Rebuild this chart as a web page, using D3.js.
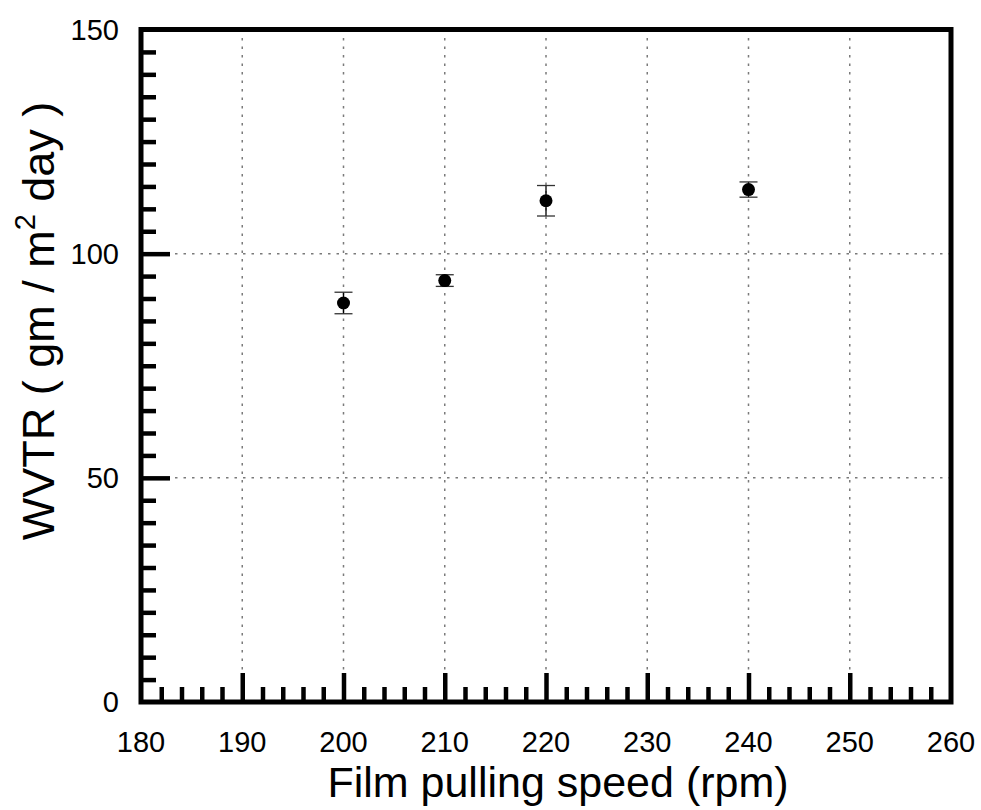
<!DOCTYPE html>
<html>
<head>
<meta charset="utf-8">
<script src="https://cdn.jsdelivr.net/npm/d3@7"></script>
<style>
  body { margin: 0; background: #fff; }
  text { font-family: "Liberation Sans", Arial, sans-serif; fill: #000; }
</style>
</head>
<body>
<svg id="svg" width="981" height="810"></svg>
<script>
// data
var speeds = [200, 210, 220, 240];
var wvtr = [89.0, 94.0, 111.8, 114.3];
var wvtrErr = [2.4, 1.3, 3.4, 1.7];

var xTicks = [180, 190, 200, 210, 220, 230, 240, 250, 260];
var yTicks = [0, 50, 100, 150];

var pLeft = 141, pRight = 951, pTop = 29.5, pBottom = 702;

var svg = d3.select("#svg");

var x = d3.scaleLinear().domain([180, 260]).range([pLeft, pRight]);
var y = d3.scaleLinear().domain([0, 150]).range([pBottom, pTop]);

// grid lines, dotted
var grid = svg.append("g");
grid.selectAll(".gx").data(xTicks.slice(1, -1)).enter()
  .append("line")
  .attr("x1", function(d){ return x(d); })
  .attr("x2", function(d){ return x(d); })
  .attr("y1", pTop)
  .attr("y2", pBottom)
  .attr("stroke", "#7a7a7a")
  .attr("stroke-width", 1.5)
  .attr("stroke-dasharray", "2.5,6");
grid.selectAll(".gy").data(yTicks.slice(1, -1)).enter()
  .append("line")
  .attr("x1", pLeft)
  .attr("x2", pRight)
  .attr("y1", function(d){ return y(d); })
  .attr("y2", function(d){ return y(d); })
  .attr("stroke", "#7a7a7a")
  .attr("stroke-width", 1.5)
  .attr("stroke-dasharray", "2.5,6");

// inward ticks on bottom and left
var xMinor = d3.range(182, 260, 2).filter(function(v){ return v % 10 != 0; });
var yMinor = d3.range(5, 150, 5).filter(function(v){ return v % 50 != 0; });

function tickAxis(axis, g){
  g.call(axis);
  g.select(".domain").remove();
  g.selectAll(".tick line").attr("stroke", "#000").attr("stroke-width", 4.5);
}

tickAxis(d3.axisBottom(x).tickValues(xMinor).tickSize(-15).tickFormat(""),
  svg.append("g").attr("transform", "translate(0," + pBottom + ")"));
tickAxis(d3.axisBottom(x).tickValues(xTicks.slice(1, -1)).tickSize(-29).tickFormat(""),
  svg.append("g").attr("transform", "translate(0," + pBottom + ")"));
tickAxis(d3.axisLeft(y).tickValues(yMinor).tickSize(-15).tickFormat(""),
  svg.append("g").attr("transform", "translate(" + pLeft + ",0)"));
tickAxis(d3.axisLeft(y).tickValues(yTicks.slice(1, -1)).tickSize(-29).tickFormat(""),
  svg.append("g").attr("transform", "translate(" + pLeft + ",0)"));

// frame
svg.append("rect")
  .attr("x", pLeft).attr("y", pTop)
  .attr("width", pRight - pLeft).attr("height", pBottom - pTop)
  .attr("fill", "none").attr("stroke", "#000").attr("stroke-width", 5);

// tick labels
svg.selectAll(".xl").data(xTicks).enter()
  .append("text")
  .attr("x", function(d){ return x(d); })
  .attr("y", 752)
  .attr("text-anchor", "middle")
  .style("font-size", "29px")
  .text(function(d){ return d; });

svg.selectAll(".yl").data(yTicks).enter()
  .append("text")
  .attr("x", 119)
  .attr("y", function(d){ return y(d) + 10; })
  .attr("text-anchor", "end")
  .style("font-size", "29px")
  .text(function(d){ return d; });

// axis titles
svg.append("text")
  .attr("x", 558)
  .attr("y", 797)
  .attr("text-anchor", "middle")
  .style("font-size", "43px")
  .text("Film pulling speed (rpm)");

var yt = svg.append("text")
  .attr("transform", "translate(54,321) rotate(-90)")
  .attr("text-anchor", "middle")
  .style("font-size", "45px");
yt.append("tspan").text("WVTR ( gm / m");
yt.append("tspan").attr("dy", -19).style("font-size", "29px").text("2");
yt.append("tspan").attr("dy", 19).text(" day )");

// error bars and points
var pts = svg.selectAll(".pt").data(speeds).enter().append("g");
pts.append("line")
  .attr("x1", function(d){ return x(d); })
  .attr("x2", function(d){ return x(d); })
  .attr("y1", function(d, i){ return y(wvtr[i] + wvtrErr[i]); })
  .attr("y2", function(d, i){ return y(wvtr[i] - wvtrErr[i]); })
  .attr("stroke", "#000").attr("stroke-width", 1.3);
[1, -1].forEach(function(s){
  pts.append("line")
    .attr("x1", function(d){ return x(d) - 9; })
    .attr("x2", function(d){ return x(d) + 9; })
    .attr("y1", function(d, i){ return y(wvtr[i] + s * wvtrErr[i]); })
    .attr("y2", function(d, i){ return y(wvtr[i] + s * wvtrErr[i]); })
    .attr("stroke", "#333").attr("stroke-width", 1.3);
});
pts.append("circle")
  .attr("cx", function(d){ return x(d); })
  .attr("cy", function(d, i){ return y(wvtr[i]); })
  .attr("r", 6.5)
  .attr("fill", "#000");
</script>
</body>
</html>
